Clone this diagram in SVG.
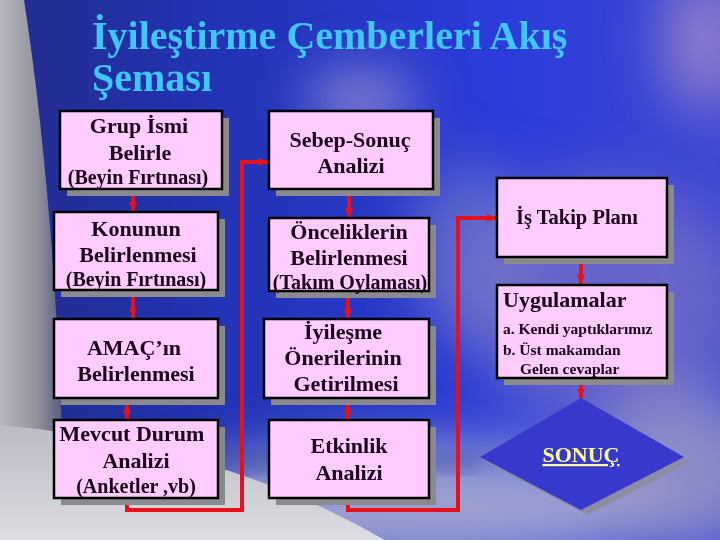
<svg xmlns="http://www.w3.org/2000/svg" width="720" height="540" viewBox="0 0 720 540">
  <defs>
    <linearGradient id="bg" x1="0" y1="0" x2="1" y2="0">
      <stop offset="0" stop-color="#232c8c"/>
      <stop offset="0.3" stop-color="#2233b4"/>
      <stop offset="0.7" stop-color="#2b3cda"/>
      <stop offset="1" stop-color="#4048d4"/>
    </linearGradient>
    <linearGradient id="leftEdge" x1="0" y1="0" x2="1" y2="0">
      <stop offset="0" stop-color="#b8b8c0"/>
      <stop offset="0.6" stop-color="#92929c"/>
      <stop offset="1" stop-color="#5a5e80"/>
    </linearGradient>
    <linearGradient id="bottomLeft" x1="0" y1="0" x2="0" y2="1">
      <stop offset="0" stop-color="#bcbcc6"/>
      <stop offset="1" stop-color="#dcdce2"/>
    </linearGradient>
    <filter id="blur" x="-50%" y="-50%" width="200%" height="200%">
      <feGaussianBlur stdDeviation="28"/>
    </filter>
    <filter id="blurS" x="-50%" y="-50%" width="200%" height="200%">
      <feGaussianBlur stdDeviation="10"/>
    </filter>
    <marker id="ah" markerWidth="10" markerHeight="10" refX="9" refY="5" orient="auto" markerUnits="userSpaceOnUse">
      <path d="M0,1 L9,5 L0,9 Z" fill="#e8101a"/>
    </marker>
    <style>
      .box { fill: #ffccff; stroke: #000; stroke-width: 2.5; }
      .sh { fill: #8a8a8e; }
      .t { font-family: "Liberation Serif", "Times New Roman", serif; font-weight: bold; fill: #1a001a; text-anchor: middle; font-size: 22px; }
      .p { font-size: 20px; }
      .s { font-size: 15.5px; text-anchor: start; }
      .conn { fill: none; stroke: #e8101a; stroke-width: 4; }
      .title { font-family: "Liberation Serif", "Times New Roman", serif; font-weight: bold; font-size: 40px; fill: #40c6f6; }
    </style>
  </defs>

  <!-- background -->
  <rect x="0" y="0" width="720" height="540" fill="url(#bg)"/>
  <g filter="url(#blur)">
    <ellipse cx="360" cy="100" rx="55" ry="26" fill="#b8a8d8" opacity="0.8"/>
    <ellipse cx="705" cy="40" rx="40" ry="70" fill="#a890c8" opacity="0.8"/>
    <ellipse cx="600" cy="300" rx="140" ry="120" fill="#7a74c4" opacity="0.7"/>
    <ellipse cx="470" cy="250" rx="60" ry="90" fill="#7e80c8" opacity="0.6"/>
    <ellipse cx="420" cy="505" rx="260" ry="60" fill="#a8acd0" opacity="0.9"/>
    <ellipse cx="680" cy="470" rx="90" ry="80" fill="#9c9cc4" opacity="0.8"/>
  </g>
  <g filter="url(#blurS)">
    <rect x="180" y="455" width="300" height="14" fill="#3a4aa0" opacity="0.6"/>
  </g>
  <path d="M0,0 L24,0 Q52,180 62,430 L0,450 Z" fill="url(#leftEdge)"/>
  <path d="M0,425 Q220,445 385,540 L0,540 Z" fill="url(#bottomLeft)"/>

  <!-- title -->
  <text class="title" x="92" y="49">İyileştirme Çemberleri Akış</text>
  <text class="title" x="92" y="91">Şeması</text>

  <!-- connectors -->
  <g id="connectors">
    <path class="conn" d="M133,189 L133,211" marker-end="url(#ah)"/>
    <path class="conn" d="M133,290 L133,318" marker-end="url(#ah)"/>
    <path class="conn" d="M127,398 L127,419" marker-end="url(#ah)"/>
    <path class="conn" d="M127,498 L127,510 L242,510 L242,162 L268,162" marker-end="url(#ah)"/>
    <path class="conn" d="M349,189 L349,217" marker-end="url(#ah)"/>
    <path class="conn" d="M348,291 L348,318" marker-end="url(#ah)"/>
    <path class="conn" d="M348,398 L348,419" marker-end="url(#ah)"/>
    <path class="conn" d="M348,498 L348,510 L458,510 L458,218 L496,218" marker-end="url(#ah)"/>
    <path class="conn" d="M581,257 L581,284" marker-end="url(#ah)"/>
    <path class="conn" d="M581,378 L581,398" marker-end="url(#ah)"/>
  </g>

  <!-- nodes -->
  <g id="grup">
    <rect class="sh" x="67" y="118" width="162" height="78"/>
    <rect class="box" x="60" y="111" width="162" height="78"/>
    <text class="t" x="139" y="133">Grup İsmi</text>
    <text class="t" x="140" y="160">Belirle</text>
    <text class="t p" x="138" y="184">(Beyin Fırtınası)</text>
  </g>
  <g id="konunun">
    <rect class="sh" x="61" y="219" width="164" height="78"/>
    <rect class="box" x="54" y="212" width="164" height="78"/>
    <text class="t" x="136" y="236">Konunun</text>
    <text class="t" x="138" y="262">Belirlenmesi</text>
    <text class="t p" x="136" y="286">(Beyin Fırtınası)</text>
  </g>
  <g id="amac">
    <rect class="sh" x="61" y="326" width="164" height="79"/>
    <rect class="box" x="54" y="319" width="164" height="79"/>
    <text class="t" x="134" y="355">AMAÇ’ın</text>
    <text class="t" x="136" y="381">Belirlenmesi</text>
  </g>
  <g id="mevcut">
    <rect class="sh" x="61" y="427" width="164" height="78"/>
    <rect class="box" x="54" y="420" width="164" height="78"/>
    <text class="t" x="132" y="441">Mevcut Durum</text>
    <text class="t" x="136" y="468">Analizi</text>
    <text class="t p" x="136" y="493">(Anketler ,vb)</text>
  </g>
  <g id="sebep">
    <rect class="sh" x="276" y="118" width="164" height="78"/>
    <rect class="box" x="269" y="111" width="164" height="78"/>
    <text class="t" x="350" y="147">Sebep-Sonuç</text>
    <text class="t" x="351" y="173">Analizi</text>
  </g>
  <g id="oncelik">
    <rect class="sh" x="276" y="225" width="160" height="73"/>
    <rect class="box" x="269" y="218" width="160" height="73"/>
    <text class="t" x="349" y="239">Önceliklerin</text>
    <text class="t" x="349" y="265">Belirlenmesi</text>
    <text class="t p" x="350" y="289">(Takım Oylaması)</text>
  </g>
  <g id="iyilesme">
    <rect class="sh" x="271" y="326" width="165" height="79"/>
    <rect class="box" x="264" y="319" width="165" height="79"/>
    <text class="t" x="343" y="339">İyileşme</text>
    <text class="t" x="343" y="365">Önerilerinin</text>
    <text class="t" x="346" y="391">Getirilmesi</text>
  </g>
  <g id="etkinlik">
    <rect class="sh" x="276" y="427" width="160" height="78"/>
    <rect class="box" x="269" y="420" width="160" height="78"/>
    <text class="t" x="349" y="453">Etkinlik</text>
    <text class="t" x="349" y="480">Analizi</text>
  </g>
  <g id="istakip">
    <rect class="sh" x="504" y="185" width="170" height="79"/>
    <rect class="box" x="497" y="178" width="170" height="79"/>
    <text class="t" x="577" y="224" style="font-size:20.5px">İş Takip Planı</text>
  </g>
  <g id="uygulamalar">
    <rect class="sh" x="504" y="292" width="170" height="93"/>
    <rect class="box" x="497" y="285" width="170" height="93"/>
    <text class="t" x="503" y="307" style="text-anchor:start">Uygulamalar</text>
    <text class="t s" x="503" y="334">a. Kendi yaptıklarımız</text>
    <text class="t s" x="503" y="355">b. Üst makamdan</text>
    <text class="t s" x="520" y="374">Gelen cevaplar</text>
  </g>
  <g id="sonuc">
    <polygon points="587,403 690,462 587,515 486,462" fill="#8c8ca6"/>
    <polygon points="581,398 684,457 581,510 480,457" fill="#3838cc"/>
    <text x="581" y="462" text-anchor="middle" font-family="Liberation Serif, Times New Roman, serif" font-weight="bold" font-size="22" fill="#ffff99" text-decoration="underline">SONUÇ</text>
  </g>
</svg>
